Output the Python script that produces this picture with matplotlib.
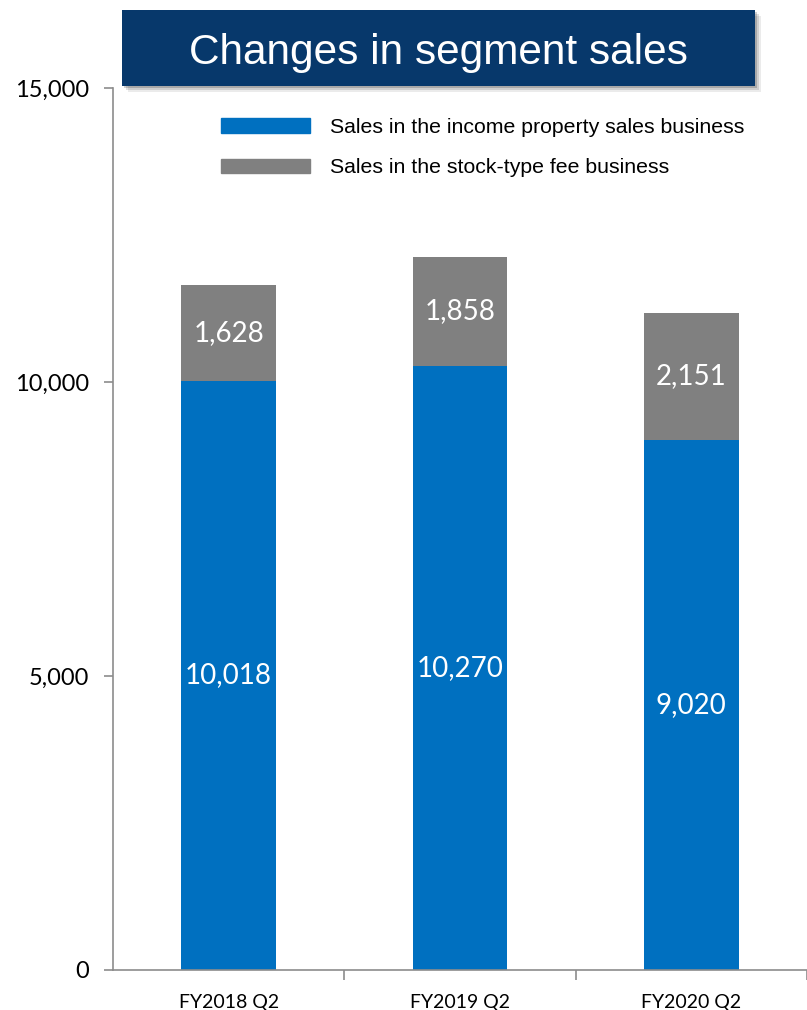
import matplotlib
matplotlib.use('Agg')
import matplotlib.pyplot as plt
from matplotlib.patches import Rectangle, Patch

# Segment sales by half-year period
periods = ['FY2018 Q2', 'FY2019 Q2', 'FY2020 Q2']
income_property = [10018, 10270, 9020]
stock_fee = [1628, 1858, 2151]
series_names = ['Sales in the income property sales business',
                'Sales in the stock-type fee business']
yticks = [0, 5000, 10000, 15000]

blue = '#0070C0'
grey = '#808080'
navy = '#07386B'
spine = '#8C8C8C'

W, H = 807, 1010
fig = plt.figure(figsize=(W / 100, H / 100), dpi=100)
ax = fig.add_axes([113 / W, 40 / H, (W - 113) / W, (970 - 88) / H])

x = range(len(periods))
ax.bar(x, income_property, width=0.41, color=blue, zorder=2)
ax.bar(x, stock_fee, width=0.41, bottom=income_property, color=grey, zorder=2)

num_font = ['Lato', 'DejaVu Sans']
for i in x:
    ax.text(i, income_property[i] / 2, f'{income_property[i]:,}', ha='center',
            va='center', color='white', fontsize=20, family=num_font)
    ax.text(i, income_property[i] + stock_fee[i] / 2, f'{stock_fee[i]:,}',
            ha='center', va='center', color='white', fontsize=20, family=num_font)

ax.set_xlim(-0.5, 2.5)
ax.set_ylim(0, 15000)
ax.set_yticks(yticks)
ax.set_yticklabels([f'{v:,}' for v in yticks], fontsize=17, family=num_font)
ax.set_xticks([0.5, 1.5, 2.5], minor=True)
ax.set_xticks(list(x))
ax.set_xticklabels(periods, fontsize=14, family=num_font)
ax.tick_params(axis='x', which='major', length=0, pad=17)
ax.tick_params(axis='x', which='minor', length=7, color=spine, width=1.2)
ax.tick_params(axis='y', length=6.5, color=spine, width=1.2, pad=11)
for s in ['top', 'right']:
    ax.spines[s].set_visible(False)
for s in ['left', 'bottom']:
    ax.spines[s].set_color(spine)
    ax.spines[s].set_linewidth(1.2)

handles = [Patch(color=blue), Patch(color=grey)]
ax.legend(handles, series_names, loc='upper left', bbox_to_anchor=(221 / W, 1 - 118 / H),
          bbox_transform=fig.transFigure, frameon=False, borderpad=0, borderaxespad=0,
          handlelength=4.2, handleheight=0.66, handletextpad=0.95, labelspacing=1.0,
          prop={'family': 'Liberation Sans', 'size': 15.3})

# title banner with a soft drop shadow
bx, by, bw, bh = 122, 10, 633, 76
for k, a in [(6, 0.08), (4, 0.12), (2, 0.18)]:
    fig.patches.append(Rectangle(((bx + k) / W, 1 - (by + bh + k) / H), bw / W, bh / H,
                                 transform=fig.transFigure, color='black', alpha=a,
                                 lw=0, zorder=5))
fig.patches.append(Rectangle((bx / W, 1 - (by + bh) / H), bw / W, bh / H,
                             transform=fig.transFigure, color=navy, lw=0, zorder=6))
fig.text((bx + bw / 2) / W, 1 - (by + bh / 2 + 5) / H, 'Changes in segment sales',
         ha='center', va='center', color='white', fontsize=30.5,
         family=['Liberation Sans Narrow', 'Liberation Sans'], zorder=7)

fig.savefig('out.png', dpi=100)
